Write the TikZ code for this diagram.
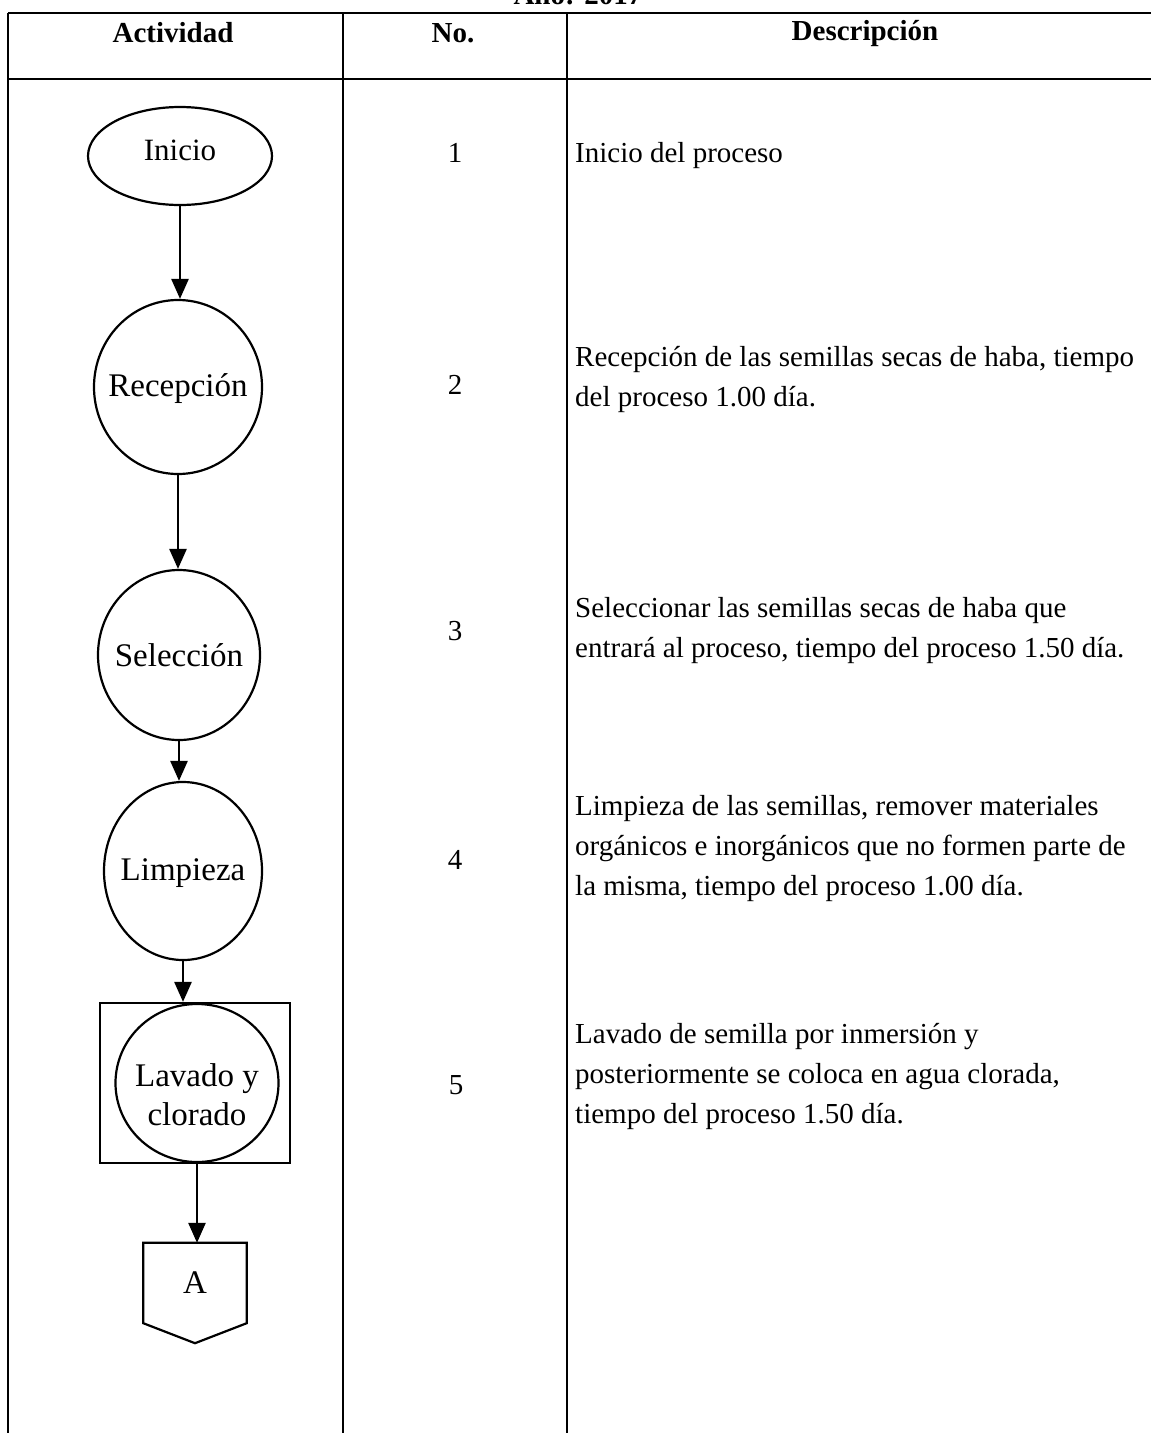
\documentclass[tikz,border=0pt]{standalone}
\usepackage{fontspec}
\setmainfont{Liberation Serif}
\usetikzlibrary{arrows.meta,shapes.geometric,calc}
\begin{document}
\begin{tikzpicture}[x=1pt,y=-1pt,
  tbl/.style={line width=1.8pt},
  shp/.style={draw, line width=2.2pt, inner sep=0pt},
  arr/.style={line width=2.6pt, -{Triangle[length=20pt,width=17pt]}},
  lbl/.style={font=\fontsize{33}{39}\selectfont, inner sep=0pt, align=center},
  txt/.style={font=\fontsize{29}{40}\selectfont, inner sep=0pt},
  hdr/.style={font=\fontsize{29}{35}\selectfont\bfseries, inner sep=0pt}]
\useasboundingbox (0,0) rectangle (1151,1433);
\clip (0,0) rectangle (1151,1433);
% table
\draw[tbl] (8,13) -- (1151,13);
\draw[tbl] (8,79) -- (1151,79);
\draw[tbl] (8,13) -- (8,1433);
\draw[tbl] (343,13) -- (343,1433);
\draw[tbl] (567,13) -- (567,1433);
% title and headers
\node[hdr, anchor=base] (title) at (578,4) {Año: 2017};
\node[hdr, anchor=base] (h1) at (173,42) {Actividad};
\node[hdr, anchor=base] (h2) at (453,42) {No.};
\node[hdr, anchor=base] (h3) at (865,40) {Descripción};
% shapes
\node[shp, ellipse, minimum width=184pt, minimum height=98pt] (ini) at (180,156) {};
\node[lbl, font=\fontsize{31}{36}\selectfont] (init) at ([yshift=6pt]ini.center) {Inicio};
\node[shp, ellipse, minimum width=168pt, minimum height=174pt] (rec) at (178,387) {};
\node[lbl] (rect) at ([yshift=-2pt]rec.center) {Recepción};
\node[shp, ellipse, minimum width=162pt, minimum height=170pt] (sel) at (179,655) {};
\node[lbl] (selt) at (sel.center) {Selección};
\node[shp, ellipse, minimum width=158pt, minimum height=178pt] (lim) at (183,871) {};
\node[lbl] (limt) at ([yshift=-2pt]lim.center) {Limpieza};
\node[shp, rectangle, minimum width=190pt, minimum height=160pt] (lavbox) at (195,1083) {};
\node[shp, ellipse, minimum width=163pt, minimum height=158pt] (lav) at (197,1083) {};
\node[lbl] (lavt) at ([yshift=-12pt]lav.center) {Lavado y\\clorado};
\node[inner sep=0pt, minimum width=103pt, minimum height=80pt, font=\fontsize{33}{38}\selectfont] (conA) at (195,1283) {A};
\draw[line width=2.2pt, line join=miter] (conA.north west) -- (conA.north east) -- (conA.south east) -- ([yshift=-20pt]conA.south) -- (conA.south west) -- cycle;
% connectors
\draw[arr] (ini.south) -- (ini.south |- rec.north);
\draw[arr] (rec.south) -- (rec.south |- sel.north);
\draw[arr] (sel.south) -- (sel.south |- lim.north);
\draw[arr] (lim.south) -- (lim.south |- lavbox.north);
\draw[arr] (lav.south |- lavbox.south) -- (lav.south |- conA.north);
% numbers
\node[txt, anchor=base] (n1) at (455,162) {1};
\node[txt, anchor=base] (n2) at (455,394) {2};
\node[txt, anchor=base] (n3) at (455,640) {3};
\node[txt, anchor=base] (n4) at (455,869) {4};
\node[txt, anchor=base] (n5) at (456,1094) {5};
% descriptions
\node[txt, anchor=base west] (d1) at (575,162) {\vtop{\hbox{Inicio del proceso}}};
\node[txt, anchor=base west] (d2) at (575,366) {\vtop{\hbox{Recepción de las semillas secas de haba, tiempo}\hbox{del proceso 1.00 día.}}};
\node[txt, anchor=base west] (d3) at (575,617) {\vtop{\hbox{Seleccionar las semillas secas de haba que}\hbox{entrará al proceso, tiempo del proceso 1.50 día.}}};
\node[txt, anchor=base west] (d4) at (575,815) {\vtop{\hbox{Limpieza de las semillas, remover materiales}\hbox{orgánicos e inorgánicos que no formen parte de}\hbox{la misma, tiempo del proceso 1.00 día.}}};
\node[txt, anchor=base west] (d5) at (575,1043) {\vtop{\hbox{Lavado de semilla por inmersión y}\hbox{posteriormente se coloca en agua clorada,}\hbox{tiempo del proceso 1.50 día.}}};
\end{tikzpicture}
\end{document}
